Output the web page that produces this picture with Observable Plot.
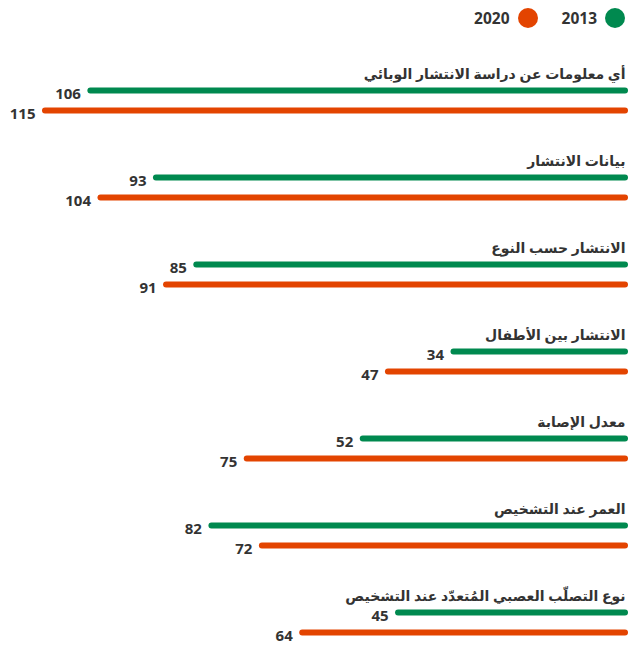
<!DOCTYPE html>
<html><head><meta charset="utf-8">
<script src="https://cdn.jsdelivr.net/npm/d3@7"></script>
<script src="https://cdn.jsdelivr.net/npm/@observablehq/plot@0.6"></script>
<style>
body{margin:0;background:#fff;font-family:"Open Sans","DejaVu Sans",sans-serif;}
#legend{height:36px;display:flex;justify-content:flex-end;align-items:center;padding-right:3px;font-weight:bold;font-size:15.5px;color:#333;}
#legend span.sw{display:inline-block;width:20px;height:20px;border-radius:50%;margin-left:8px;}
#legend .item{display:flex;align-items:center;margin-left:24px;}
</style></head>
<body>
<div id="legend"></div>
<div id="chart"></div>
<script>
const categories = [
  "أي معلومات عن دراسة الانتشار الوبائي",
  "بيانات الانتشار",
  "الانتشار حسب النوع",
  "الانتشار بين الأطفال",
  "معدل الإصابة",
  "العمر عند التشخيص",
  "نوع التصلّب العصبي المُتعدّد عند التشخيص"
];
const v2013 = [106, 93, 85, 34, 52, 82, 45];
const v2020 = [115, 104, 91, 47, 75, 72, 64];
const seriesNames = ["2013", "2020"];
const colors = ["#00894f", "#e34400"];

const legend = document.getElementById("legend");
[1, 0].forEach(i => {
  const d = document.createElement("div");
  d.className = "item";
  d.innerHTML = `<span>${seriesNames[i]}</span><span class="sw" style="background:${colors[i]}"></span>`;
  legend.appendChild(d);
});

const data = categories.map((c, i) => ({cat: c, a: v2013[i], b: v2020[i]}));

const chart = Plot.plot({
  width: 628,
  height: 612,
  marginTop: 54,
  marginBottom: 36,
  marginLeft: 45,
  marginRight: 3,
  x: {domain: [0, 115], reverse: true, axis: null},
  y: {type: "point", domain: categories, padding: 0, axis: null},
  style: {fontFamily: "'Open Sans','DejaVu Sans',sans-serif"},
  marks: [
    Plot.ruleY(data, {y: "cat", x1: 0, x2: "a", stroke: colors[0], strokeWidth: 6, strokeLinecap: "round"}),
    Plot.ruleY(data, {y: "cat", x1: 0, x2: "b", stroke: colors[1], strokeWidth: 6, strokeLinecap: "round", dy: 20}),
    Plot.text(data, {y: "cat", x: 0, text: "cat", textAnchor: "end", dy: -16, fontSize: 14, fontWeight: "bold", fill: "#333"}),
    Plot.text(data, {y: "cat", x: "a", text: d => String(d.a), textAnchor: "end", dx: -10, dy: 4, fontSize: 15, fontWeight: "bold", fill: "#333"}),
    Plot.text(data, {y: "cat", x: "b", text: d => String(d.b), textAnchor: "end", dx: -10, dy: 24, fontSize: 15, fontWeight: "bold", fill: "#333"})
  ]
});
document.getElementById("chart").appendChild(chart);
</script>
</body></html>
